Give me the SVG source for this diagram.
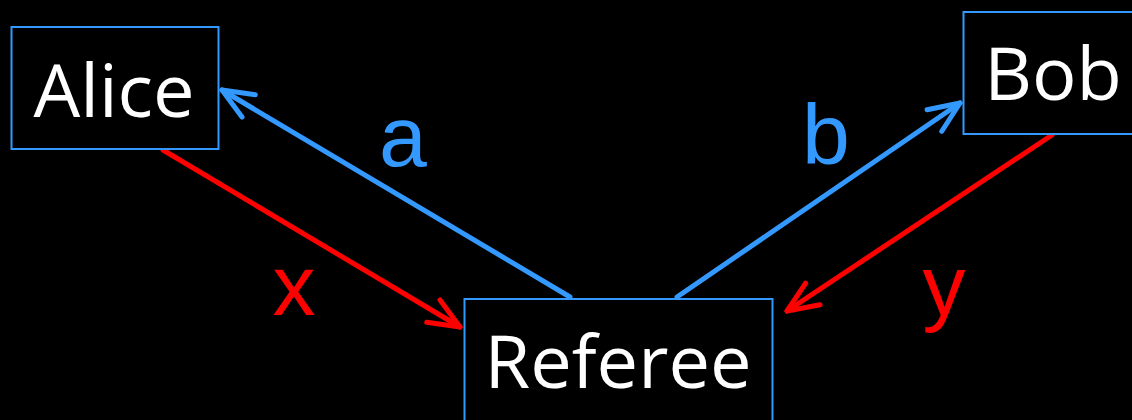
<svg xmlns="http://www.w3.org/2000/svg" width="1132" height="420" viewBox="0 0 1132 420">
<style>
.box{fill:#000;stroke:#3399FF;stroke-width:2}
.name{font-family:"Open Sans","Liberation Sans",sans-serif;font-size:74px;fill:#fff;text-anchor:middle}
.lbl{font-family:"Liberation Sans",Arial,sans-serif;font-size:86px;text-anchor:middle}
.blue{stroke:#3399FF;stroke-width:5;fill:none;stroke-linecap:round}
.red{stroke:#FF0000;stroke-width:5;fill:none;stroke-linecap:round}
</style>
<defs>
<marker id="hb" markerUnits="userSpaceOnUse" markerWidth="44" markerHeight="44" viewBox="-38 -22 44 44" refX="0" refY="0" orient="auto">
<path d="M-31,-13 L0,0 L-31,13" fill="none" stroke="#3399FF" stroke-width="5" stroke-linecap="round" stroke-linejoin="round"/>
</marker>
<marker id="hr" markerUnits="userSpaceOnUse" markerWidth="44" markerHeight="44" viewBox="-38 -22 44 44" refX="0" refY="0" orient="auto">
<path d="M-31,-13 L0,0 L-31,13" fill="none" stroke="#FF0000" stroke-width="5" stroke-linecap="round" stroke-linejoin="round"/>
</marker>
</defs>
<rect width="1132" height="420" fill="#000"/>
<g id="connectors">
<line class="blue" x1="570" y1="297" x2="222" y2="90" marker-end="url(#hb)"/>
<line class="blue" x1="677" y1="297" x2="960" y2="103" marker-end="url(#hb)"/>
<line class="red" x1="163" y1="150" x2="460" y2="327" marker-end="url(#hr)"/>
<line class="red" x1="1052" y1="135" x2="787" y2="311" marker-end="url(#hr)"/>
<text class="lbl" x="403" y="166" fill="#3399FF">a</text>
<text class="lbl" x="826" y="164" fill="#3399FF">b</text>
<text class="lbl" x="294" y="315" fill="#FF0000">x</text>
<text class="lbl" x="944" y="315" fill="#FF0000">y</text>
</g>
<g id="alice">
<rect class="box" x="11.5" y="27" width="207" height="122"/>
<text class="name" x="114" y="117">Alice</text>
</g>
<g id="bob">
<rect class="box" x="963.5" y="12" width="180" height="122"/>
<text class="name" x="1053" y="100">Bob</text>
</g>
<g id="referee">
<rect class="box" x="464.5" y="299" width="308" height="130"/>
<text class="name" x="618" y="388">Referee</text>
</g>
</svg>
